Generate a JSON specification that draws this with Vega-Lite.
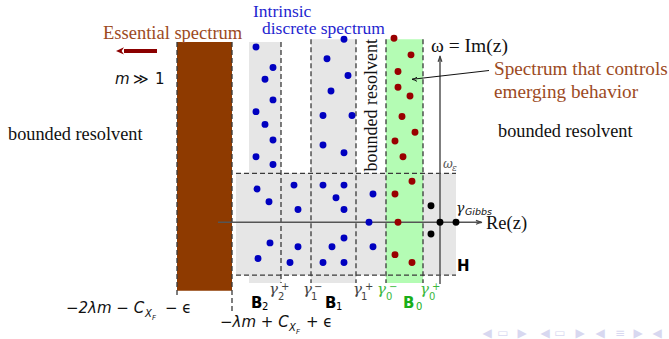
{
  "$schema": "https://vega.github.io/schema/vega-lite/v6.json",
  "width": 669,
  "height": 339,
  "autosize": {"type": "fit", "contains": "padding"},
  "padding": 0,
  "background": "white",
  "config": {"view": {"stroke": null}},
  "encoding": {
    "x": {"field": "x", "type": "quantitative", "scale": {"domain": [0, 669], "nice": false, "zero": false}, "axis": null},
    "y": {"field": "y", "type": "quantitative", "scale": {"domain": [0, 339], "nice": false, "zero": false, "reverse": true}, "axis": null}
  },
  "layer": [
    {
      "data": {"values": [
        {"x": 236, "x2": 456, "y": 177, "y2": 281},
        {"x": 249, "x2": 281, "y": 43, "y2": 289},
        {"x": 311, "x2": 356, "y": 40, "y2": 289}
      ]},
      "mark": {"type": "rect", "color": "#e6e6e6"},
      "encoding": {"x2": {"field": "x2"}, "y2": {"field": "y2"}}
    },
    {
      "data": {"values": [{"x": 386, "x2": 423, "y": 40, "y2": 289}]},
      "mark": {"type": "rect", "color": "#b4fcb4"},
      "encoding": {"x2": {"field": "x2"}, "y2": {"field": "y2"}}
    },
    {
      "data": {"values": [{"x": 177, "x2": 232, "y": 43, "y2": 297}]},
      "mark": {"type": "rect", "color": "#8e3a00"},
      "encoding": {"x2": {"field": "x2"}, "y2": {"field": "y2"}}
    },
    {
      "data": {"values": [
        {"x": 177, "y": 43, "x2": 177, "y2": 303},
        {"x": 232, "y": 43, "x2": 232, "y2": 318},
        {"x": 281, "y": 43, "x2": 281, "y2": 289},
        {"x": 311, "y": 40, "x2": 311, "y2": 289},
        {"x": 356, "y": 40, "x2": 356, "y2": 289},
        {"x": 386, "y": 40, "x2": 386, "y2": 289},
        {"x": 423, "y": 40, "x2": 423, "y2": 289},
        {"x": 236, "y": 177, "x2": 456, "y2": 177},
        {"x": 236, "y": 281, "x2": 456, "y2": 281}
      ]},
      "mark": {"type": "rule", "color": "#3a3a3a", "strokeWidth": 1.3, "strokeDash": [5, 3]},
      "encoding": {"x2": {"field": "x2"}, "y2": {"field": "y2"}}
    },
    {
      "data": {"values": [
        {"x": 218, "y": 227, "x2": 481, "y2": 227},
        {"x": 440, "y": 290, "x2": 440, "y2": 58}
      ]},
      "mark": {"type": "rule", "color": "#555555", "strokeWidth": 1.5},
      "encoding": {"x2": {"field": "x2"}, "y2": {"field": "y2"}}
    },
    {
      "data": {"values": [{"x": 489, "y": 72, "x2": 412, "y2": 81}]},
      "mark": {"type": "rule", "color": "#111111", "strokeWidth": 1},
      "encoding": {"x2": {"field": "x2"}, "y2": {"field": "y2"}}
    },
    {
      "data": {"values": [{"x": 157, "y": 52, "x2": 124, "y2": 52}]},
      "mark": {"type": "rule", "color": "#8b0000", "strokeWidth": 4},
      "encoding": {"x2": {"field": "x2"}, "y2": {"field": "y2"}}
    },
    {
      "data": {"values": [{"x": 116, "y": 52}]},
      "mark": {"type": "point", "shape": "M0,0L1,-0.45L0.7,0L1,0.45Z", "size": 256, "filled": true, "color": "#8b0000", "opacity": 1},
      "encoding": {}
    },
    {
      "data": {"values": [{"x": 482, "y": 227}]},
      "mark": {"type": "point", "shape": "M-1,-0.32Q-0.4,-0.05 0,0Q-0.4,0.05 -1,0.32", "size": 144, "filled": false, "stroke": "#444444", "strokeWidth": 1.3, "opacity": 1},
      "encoding": {}
    },
    {
      "data": {"values": [{"x": 440, "y": 57}]},
      "mark": {"type": "point", "shape": "M-0.32,1Q-0.05,0.4 0,0Q0.05,0.4 0.32,1", "size": 144, "filled": false, "stroke": "#444444", "strokeWidth": 1.3, "opacity": 1},
      "encoding": {}
    },
    {
      "data": {"values": [{"x": 412, "y": 81}]},
      "mark": {"type": "point", "shape": "M1,-0.4Q0.4,-0.05 0,0Q0.4,0.05 1,0.4", "size": 100, "filled": false, "stroke": "#111111", "strokeWidth": 1, "opacity": 1},
      "encoding": {}
    },
    {
      "data": {"values": [
        {"x": 256, "y": 48}, {"x": 273, "y": 69}, {"x": 265, "y": 81}, {"x": 273, "y": 102}, {"x": 256, "y": 114},
        {"x": 265, "y": 127}, {"x": 273, "y": 143}, {"x": 256, "y": 160}, {"x": 273, "y": 168},
        {"x": 344, "y": 40}, {"x": 327, "y": 60}, {"x": 348, "y": 77}, {"x": 331, "y": 93}, {"x": 323, "y": 118},
        {"x": 352, "y": 118}, {"x": 323, "y": 148}, {"x": 344, "y": 156},
        {"x": 257, "y": 193}, {"x": 269, "y": 206}, {"x": 294, "y": 189}, {"x": 298, "y": 214}, {"x": 323, "y": 189},
        {"x": 344, "y": 189}, {"x": 336, "y": 202}, {"x": 344, "y": 214}, {"x": 373, "y": 198}, {"x": 369, "y": 227},
        {"x": 270, "y": 248}, {"x": 258, "y": 264}, {"x": 298, "y": 252}, {"x": 290, "y": 268}, {"x": 323, "y": 268},
        {"x": 332, "y": 252}, {"x": 344, "y": 243}, {"x": 344, "y": 268}, {"x": 373, "y": 252}
      ]},
      "mark": {"type": "circle", "size": 48, "color": "#0000c0", "opacity": 1},
      "encoding": {}
    },
    {
      "data": {"values": [
        {"x": 394, "y": 39}, {"x": 411, "y": 56}, {"x": 398, "y": 73}, {"x": 398, "y": 89}, {"x": 410, "y": 98},
        {"x": 402, "y": 119}, {"x": 415, "y": 135}, {"x": 395, "y": 144}, {"x": 403, "y": 160}, {"x": 412, "y": 185},
        {"x": 395, "y": 198}, {"x": 398, "y": 227}, {"x": 395, "y": 260}, {"x": 412, "y": 268}
      ]},
      "mark": {"type": "circle", "size": 48, "color": "#990000", "opacity": 1},
      "encoding": {}
    },
    {
      "data": {"values": [{"x": 431, "y": 210}, {"x": 431, "y": 239}, {"x": 440, "y": 227}, {"x": 456, "y": 227}]},
      "mark": {"type": "circle", "size": 48, "color": "#000000", "opacity": 1},
      "encoding": {}
    },
    {
      "data": {"values": [
        {"x": 103, "y": 40, "t": "Essential spectrum"}
      ]},
      "mark": {"type": "text", "align": "left", "baseline": "alphabetic", "font": "Liberation Serif", "fontSize": 18.5, "color": "#9c4a1e"},
      "encoding": {"text": {"field": "t"}}
    },
    {
      "data": {"values": [
        {"x": 494, "y": 77, "t": "Spectrum that controls"},
        {"x": 494, "y": 100, "t": "emerging behavior"}
      ]},
      "mark": {"type": "text", "align": "left", "baseline": "alphabetic", "font": "Liberation Serif", "fontSize": 19.2, "color": "#9c4a1e"},
      "encoding": {"text": {"field": "t"}}
    },
    {
      "data": {"values": [
        {"x": 253, "y": 17, "t": "Intrinsic"},
        {"x": 262, "y": 35, "t": "discrete spectrum"}
      ]},
      "mark": {"type": "text", "align": "left", "baseline": "alphabetic", "font": "Liberation Serif", "fontSize": 17.5, "color": "#1f1fd0"},
      "encoding": {"text": {"field": "t"}}
    },
    {
      "data": {"values": [
        {"x": 8, "y": 143, "t": "bounded resolvent"},
        {"x": 498, "y": 140, "t": "bounded resolvent"}
      ]},
      "mark": {"type": "text", "align": "left", "baseline": "alphabetic", "font": "Liberation Serif", "fontSize": 18.3, "color": "#111111"},
      "encoding": {"text": {"field": "t"}}
    },
    {
      "data": {"values": [{"x": 377, "y": 175, "t": "bounded resolvent"}]},
      "mark": {"type": "text", "align": "left", "baseline": "alphabetic", "angle": 270, "font": "Liberation Serif", "fontSize": 18, "color": "#111111"},
      "encoding": {"text": {"field": "t"}}
    },
    {
      "data": {"values": [
        {"x": 431, "y": 53, "t": "ω = Im(z)"}
      ]},
      "mark": {"type": "text", "align": "left", "baseline": "alphabetic", "font": "Liberation Serif", "fontSize": 19.5, "color": "#111111"},
      "encoding": {"text": {"field": "t"}}
    },
    {
      "data": {"values": [
        {"x": 486, "y": 234, "t": "Re(z)"}
      ]},
      "mark": {"type": "text", "align": "left", "baseline": "alphabetic", "font": "Liberation Serif", "fontSize": 18.5, "color": "#111111"},
      "encoding": {"text": {"field": "t"}}
    },
    {
      "data": {"values": [{"x": 443, "y": 172, "t": "ω"}]},
      "mark": {"type": "text", "align": "left", "baseline": "alphabetic", "font": "DejaVu Serif", "fontStyle": "italic", "fontSize": 12, "color": "#555555"},
      "encoding": {"text": {"field": "t"}}
    },
    {
      "data": {"values": [{"x": 452, "y": 175, "t": "ε"}]},
      "mark": {"type": "text", "align": "left", "baseline": "alphabetic", "font": "DejaVu Serif", "fontStyle": "italic", "fontSize": 9, "color": "#555555"},
      "encoding": {"text": {"field": "t"}}
    },
    {
      "data": {"values": [
        {"x": 115, "y": 86, "t": "m"},
        {"x": 66, "y": 320, "t": "−2λm − C"},
        {"x": 220, "y": 334, "t": "−λm + C"}
      ]},
      "mark": {"type": "text", "align": "left", "baseline": "alphabetic", "font": "DejaVu Sans", "fontStyle": "italic", "fontSize": 15, "color": "#111111"},
      "encoding": {"text": {"field": "t"}}
    },
    {
      "data": {"values": [
        {"x": 133, "y": 86, "t": "≫"},
        {"x": 155, "y": 86, "t": "1"},
        {"x": 165, "y": 320, "t": "− ϵ"},
        {"x": 306, "y": 334, "t": "+ ϵ"}
      ]},
      "mark": {"type": "text", "align": "left", "baseline": "alphabetic", "font": "DejaVu Sans", "fontSize": 15, "color": "#111111"},
      "encoding": {"text": {"field": "t"}}
    },
    {
      "data": {"values": [
        {"x": 145, "y": 324, "t": "X"},
        {"x": 289, "y": 338, "t": "X"}
      ]},
      "mark": {"type": "text", "align": "left", "baseline": "alphabetic", "font": "DejaVu Sans", "fontStyle": "italic", "fontSize": 10, "color": "#111111"},
      "encoding": {"text": {"field": "t"}}
    },
    {
      "data": {"values": [
        {"x": 152, "y": 327, "t": "F"},
        {"x": 296, "y": 341, "t": "F"}
      ]},
      "mark": {"type": "text", "align": "left", "baseline": "alphabetic", "font": "DejaVu Sans", "fontStyle": "italic", "fontSize": 7, "color": "#111111"},
      "encoding": {"text": {"field": "t"}}
    },
    {
      "data": {"values": [
        {"x": 457, "y": 277, "t": "H"},
        {"x": 251, "y": 314, "t": "B"},
        {"x": 325, "y": 314, "t": "B"}
      ]},
      "mark": {"type": "text", "align": "left", "baseline": "alphabetic", "font": "DejaVu Sans", "fontWeight": "bold", "fontSize": 15, "color": "#000000"},
      "encoding": {"text": {"field": "t"}}
    },
    {
      "data": {"values": [{"x": 403, "y": 314, "t": "B"}]},
      "mark": {"type": "text", "align": "left", "baseline": "alphabetic", "font": "DejaVu Sans", "fontWeight": "bold", "fontSize": 15, "color": "#1aae1a"},
      "encoding": {"text": {"field": "t"}}
    },
    {
      "data": {"values": [
        {"x": 262, "y": 317, "t": "2"},
        {"x": 336, "y": 317, "t": "1"}
      ]},
      "mark": {"type": "text", "align": "left", "baseline": "alphabetic", "font": "DejaVu Sans", "fontSize": 10, "color": "#000000"},
      "encoding": {"text": {"field": "t"}}
    },
    {
      "data": {"values": [{"x": 416, "y": 317, "t": "0"}]},
      "mark": {"type": "text", "align": "left", "baseline": "alphabetic", "font": "DejaVu Sans", "fontSize": 10, "color": "#1aae1a"},
      "encoding": {"text": {"field": "t"}}
    },
    {
      "data": {"values": [
        {"x": 269, "y": 300, "t": "γ"},
        {"x": 303, "y": 300, "t": "γ"},
        {"x": 353, "y": 300, "t": "γ"}
      ]},
      "mark": {"type": "text", "align": "left", "baseline": "alphabetic", "font": "DejaVu Serif", "fontStyle": "italic", "fontSize": 15, "color": "#444444"},
      "encoding": {"text": {"field": "t"}}
    },
    {
      "data": {"values": [
        {"x": 377, "y": 300, "t": "γ"},
        {"x": 420, "y": 300, "t": "γ"}
      ]},
      "mark": {"type": "text", "align": "left", "baseline": "alphabetic", "font": "DejaVu Serif", "fontStyle": "italic", "fontSize": 15, "color": "#3cb83c"},
      "encoding": {"text": {"field": "t"}}
    },
    {
      "data": {"values": [
        {"x": 281, "y": 296, "t": "+"},
        {"x": 278, "y": 306, "t": "2"},
        {"x": 314, "y": 296, "t": "−"},
        {"x": 311, "y": 306, "t": "1"},
        {"x": 365, "y": 296, "t": "+"},
        {"x": 361, "y": 306, "t": "1"}
      ]},
      "mark": {"type": "text", "align": "left", "baseline": "alphabetic", "font": "DejaVu Sans", "fontSize": 10, "color": "#444444"},
      "encoding": {"text": {"field": "t"}}
    },
    {
      "data": {"values": [
        {"x": 389, "y": 296, "t": "−"},
        {"x": 386, "y": 306, "t": "0"},
        {"x": 432, "y": 296, "t": "+"},
        {"x": 429, "y": 306, "t": "0"}
      ]},
      "mark": {"type": "text", "align": "left", "baseline": "alphabetic", "font": "DejaVu Sans", "fontSize": 10, "color": "#3cb83c"},
      "encoding": {"text": {"field": "t"}}
    },
    {
      "data": {"values": [{"x": 456, "y": 218, "t": "γ"}]},
      "mark": {"type": "text", "align": "left", "baseline": "alphabetic", "font": "DejaVu Serif", "fontStyle": "italic", "fontSize": 14, "color": "#111111"},
      "encoding": {"text": {"field": "t"}}
    },
    {
      "data": {"values": [{"x": 465, "y": 220, "t": "Gibbs"}]},
      "mark": {"type": "text", "align": "left", "baseline": "alphabetic", "font": "DejaVu Sans", "fontStyle": "italic", "fontSize": 9.5, "color": "#111111"},
      "encoding": {"text": {"field": "t"}}
    },
    {
      "data": {"values": [
        {"x": 487, "y": 340, "t": "◀"}, {"x": 522, "y": 340, "t": "▶"},
        {"x": 545, "y": 340, "t": "◀"}, {"x": 580, "y": 340, "t": "▶"},
        {"x": 600, "y": 340, "t": "◀"}, {"x": 620, "y": 340, "t": "≡"}, {"x": 638, "y": 340, "t": "▶"},
        {"x": 657, "y": 340, "t": "◀"}, {"x": 560, "y": 340, "t": "▭"}, {"x": 503, "y": 340, "t": "▭"}
      ]},
      "mark": {"type": "text", "align": "center", "baseline": "middle", "font": "DejaVu Sans", "fontSize": 12, "color": "#d8d8f0"},
      "encoding": {"text": {"field": "t"}}
    }
  ]
}
